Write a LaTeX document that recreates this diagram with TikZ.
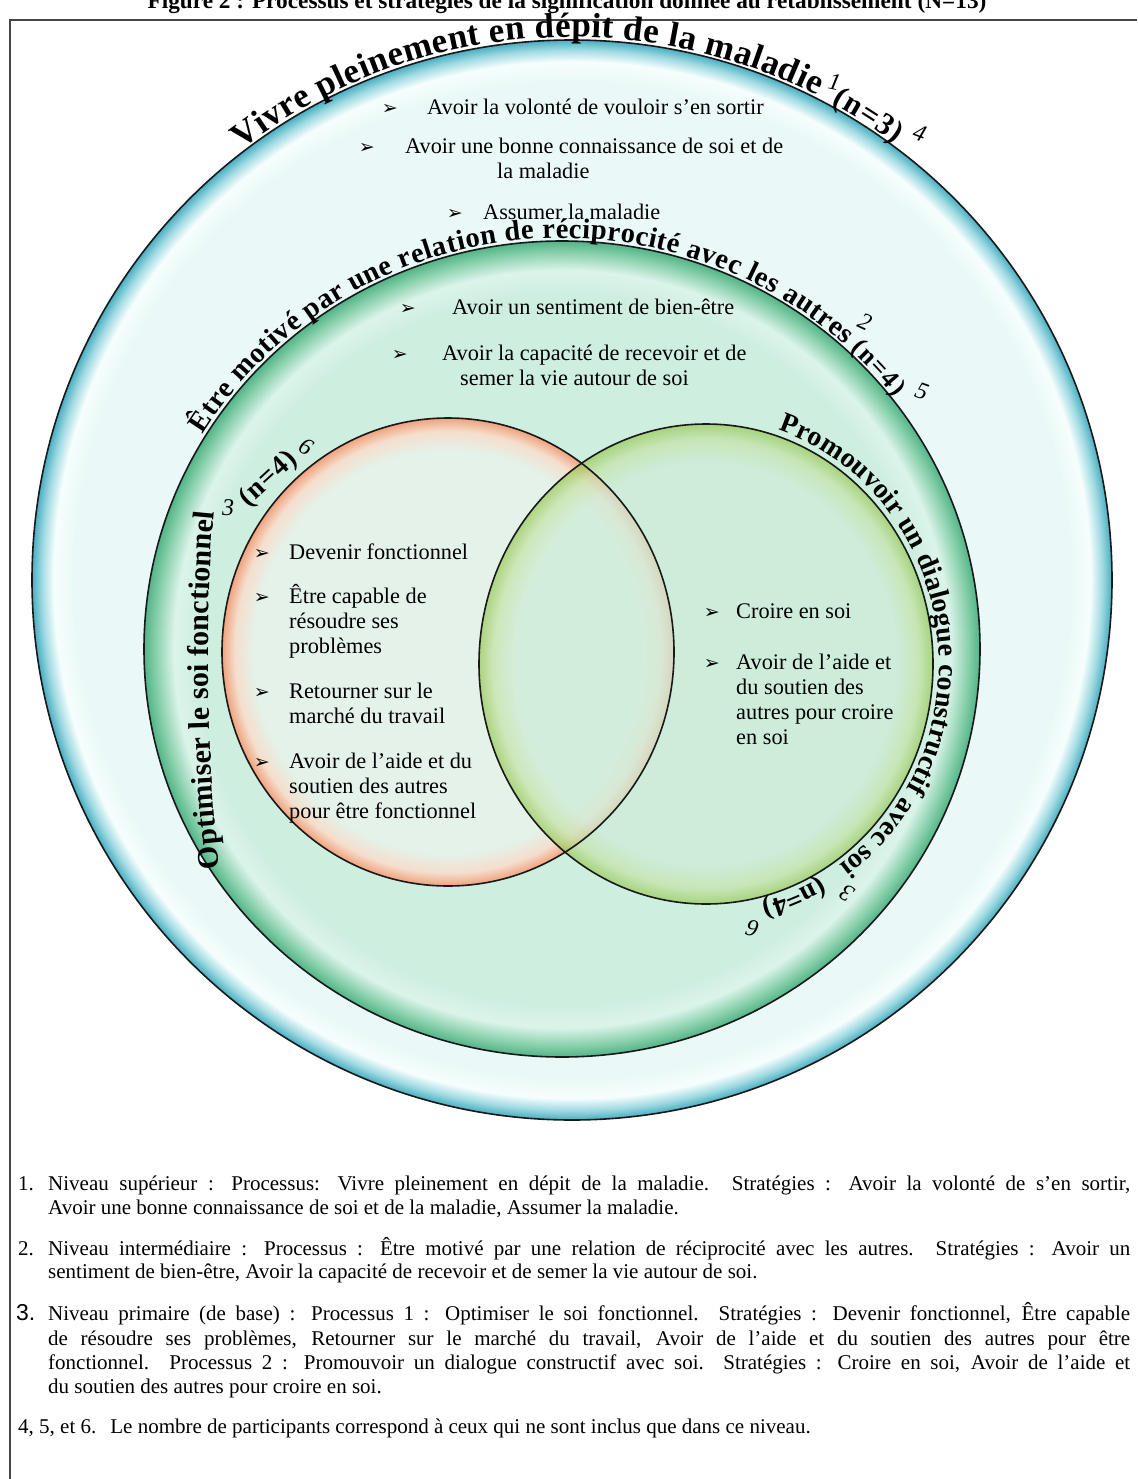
\documentclass[tikz,border=0pt]{standalone}
\usepackage{fontspec}
\setmainfont{Liberation Serif}
\newfontfamily\dejavu{DejaVu Sans}
\newfontfamily\arialfont{Liberation Sans}
\usetikzlibrary{decorations.text,calc}

\definecolor{oIn}{RGB}{234,249,247}
\definecolor{oHi}{RGB}{246,254,253}
\definecolor{oMid}{RGB}{160,218,226}
\definecolor{oEdge}{RGB}{72,174,194}
\definecolor{mIn}{RGB}{206,238,224}
\definecolor{mHi}{RGB}{220,244,234}
\definecolor{mMid}{RGB}{136,208,172}
\definecolor{mEdge}{RGB}{82,180,136}
\definecolor{rIn}{RGB}{228,242,233}
\definecolor{rMid}{RGB}{245,222,205}
\definecolor{rEdge}{RGB}{240,162,124}
\definecolor{gIn}{RGB}{205,236,216}
\definecolor{gMid}{RGB}{196,228,166}
\definecolor{gEdge}{RGB}{150,200,84}
\definecolor{framecol}{RGB}{70,70,70}

\pgfdeclareradialshading{outershade}{\pgfpoint{0bp}{0bp}}{%
 color(0bp)=(oIn); color(23.1bp)=(oIn); color(24bp)=(oHi);
 color(24.55bp)=(oMid); color(25bp)=(oEdge); color(50bp)=(oEdge)}
\pgfdeclareradialshading{middleshade}{\pgfpoint{0bp}{0bp}}{%
 color(0bp)=(mIn); color(21.8bp)=(mIn); color(23.2bp)=(mHi);
 color(24.3bp)=(mMid); color(25bp)=(mEdge); color(50bp)=(mEdge)}
\pgfdeclareradialshading{leftshade}{\pgfpoint{0bp}{0bp}}{%
 color(0bp)=(rIn); color(21.5bp)=(rIn); color(23.6bp)=(rMid);
 color(25bp)=(rEdge); color(50bp)=(rEdge)}
\pgfdeclareradialshading{rightshade}{\pgfpoint{0bp}{0bp}}{%
 color(0bp)=(gIn); color(21bp)=(gIn); color(23.4bp)=(gMid);
 color(25bp)=(gEdge); color(50bp)=(gEdge)}

\newcommand{\arcA}{\bfseries\fontsize{35}{35}\selectfont}
\newcommand{\arcAn}{\bfseries\fontsize{31}{31}\selectfont}
\newcommand{\arcB}{\bfseries\fontsize{28.5}{28.5}\selectfont}
\newcommand{\arcBn}{\bfseries\fontsize{26}{26}\selectfont}
\newcommand{\arcC}{\bfseries\fontsize{30}{30}\selectfont}
\newcommand{\arcCn}{\bfseries\fontsize{28}{28}\selectfont}
\newcommand{\arcD}{\bfseries\fontsize{28}{28}\selectfont}

\tikzset{
  txtA/.style={decorate, decoration={text along path, text align={fit to path}, text={|\arcA|#1}}},
  txtAn/.style={decorate, decoration={text along path, text align={fit to path}, text={|\arcAn|#1}}},
  txtB/.style={decorate, decoration={text along path, text align={fit to path}, text={|\arcB|#1}}},
  txtBn/.style={decorate, decoration={text along path, text align={fit to path}, text={|\arcBn|#1}}},
  txtC/.style={decorate, decoration={text along path, text align={fit to path}, text={|\arcC|#1}}},
  txtCn/.style={decorate, decoration={text along path, text align={fit to path}, text={|\arcCn|#1}}},
  txtD/.style={decorate, decoration={text along path, text align={fit to path}, text={|\arcD|#1}}},
  outline/.style={draw=black!90, line width=1.6pt},
  item/.style={anchor=base west, inner sep=0pt, align=left, font=\fontsize{22.3}{25}\selectfont},
  bul/.style={anchor=base east, inner sep=0pt, font=\dejavu\fontsize{19}{19}\selectfont},
  note/.style={anchor=base west, inner sep=0pt, font=\fontsize{21}{24}\selectfont},
  supnum/.style={inner sep=0pt, font=\itshape\fontsize{24}{24}\selectfont}
}

\begin{document}
\begin{tikzpicture}[x=1pt,y=1pt]
\useasboundingbox (0,0) rectangle (1137,-1479);

% title (cut off at top) and frame
\node[font=\bfseries\fontsize{23.3}{23.3}\selectfont, anchor=base, inner sep=0pt] (title) at (567,-9)
  {Figure 2 : Processus et stratégies de la signification donnée au rétablissement (N=13)};
\coordinate (fTL) at (10,-20);
\coordinate (fTR) at (1137,-20);
\coordinate (fBL) at (10,-1479);
\draw[framecol, line width=2.2pt] (fBL) -- (fTL) -- (fTR);

% circles
\coordinate (O) at (572,-580);
\coordinate (M) at (562,-649);
\coordinate (L) at (448,-652);
\coordinate (R) at (706,-664);

\shade[shading=outershade] (O) circle [radius=540];
\draw[outline] (O) circle [radius=540];
\shade[shading=middleshade] (M) ellipse [x radius=418, y radius=408];
\draw[outline] (M) ellipse [x radius=418, y radius=408];
\shade[shading=leftshade] (L) ellipse [x radius=226, y radius=234];
\shade[shading=rightshade, fill opacity=0.7] (R) ellipse [x radius=227, y radius=240];
\draw[outline] (L) ellipse [x radius=226, y radius=234];
\draw[outline] (R) ellipse [x radius=227, y radius=240];

% level 1 title
\path[txtA={Vivre pleinement en dépit de la maladie}] ($(O)+(127.5:543)$)
  arc[start angle=127.5, end angle=63.2, radius=543];
\path[txtAn={(n=3)}] ($(O)+(61.4:543)$)
  arc[start angle=61.4, end angle=53.5, radius=543];
\node[supnum, rotate=-12] (s1) at ($(O)+(62.2:563)$) {1};
\node[supnum, rotate=-20] (s4) at ($(O)+(52.1:566)$) {4};

% level 2 title
\path[txtB={Être motivé par une relation de réciprocité avec les autres}] ($(M)+(148.5:421 and 411)$)
  arc[start angle=148.5, end angle=47.8, x radius=421, y radius=411];
\path[txtBn={(n=4)}] ($(M)+(46.8:421 and 411)$)
  arc[start angle=46.8, end angle=37.8, x radius=421, y radius=411];
\node[supnum, rotate=-25] (s2) at ($(M)+(47.8:451 and 441)$) {2};
\node[supnum, rotate=-20] (s5) at ($(M)+(36.2:446 and 436)$) {5};

% level 3, process 1
\coordinate (la) at (220,-868);
\coordinate (lb) at (206,-760);
\coordinate (lc) at (205,-600);
\coordinate (ld) at (214,-512);
\path[txtC={Optimiser le soi fonctionnel}] (la) .. controls (lb) and (lc) .. (ld);
\coordinate (le) at (248,-507);
\coordinate (lf) at (298,-461);
\path[txtCn={(n=4)}] (le) -- (lf);
\node[supnum] (s3l) at (228,-508) {3};
\node[supnum, rotate=-30] (s6l) at (306,-447) {6};

% level 3, process 2
\path[txtD={Promouvoir un dialogue constructif avec soi}] ($(R)+(72:233 and 246)$)
  arc[start angle=72, end angle=-55, x radius=233, y radius=246];
\path[txtD={(n=4)}] ($(R)+(-60.5:233 and 246)$)
  arc[start angle=-60.5, end angle=-76, x radius=233, y radius=246];
\node[supnum, rotate=150] (s3r) at ($(R)+(-57.2:260 and 273)$) {3};
\node[supnum, rotate=165] (s6r) at ($(R)+(-79.5:256 and 269)$) {6};

% outer ring items
\node[bul] (b1) at (398,-115) {➢};
\node[item] (t1) at (427,-115) {Avoir la volonté de vouloir s’en sortir};
\node[bul] (b2) at (375,-154) {➢};
\node[item] (t2) at (405,-179) {Avoir une bonne connaissance de soi et de\\\hspace*{92pt}la maladie};
\node[bul] (b3) at (463,-220) {➢};
\node[item] (t3) at (483,-220) {Assumer la maladie};

% middle ring items
\node[bul] (b4) at (416,-314) {➢};
\node[item] (t4) at (452,-314) {Avoir un sentiment de bien-être};
\node[bul] (b5) at (408,-360) {➢};
\node[item] (t5) at (442,-385) {Avoir la capacité de recevoir et de\\\hspace*{18pt}semer la vie autour de soi};

% left circle items
\node[bul] (b6) at (270,-559) {➢};
\node[item] (t6) at (289,-559) {Devenir fonctionnel};
\node[bul] (b7) at (270,-603) {➢};
\node[item] (t7) at (289,-653) {Être capable de\\résoudre ses\\problèmes};
\node[bul] (b8) at (270,-698) {➢};
\node[item] (t8) at (289,-723) {Retourner sur le\\marché du travail};
\node[bul] (b9) at (270,-768) {➢};
\node[item] (t9) at (289,-818) {Avoir de l'aide et du\\soutien des autres\\pour être fonctionnel};

% right circle items
\node[bul] (b10) at (720,-618) {➢};
\node[item] (t10) at (736,-618) {Croire en soi};
\node[bul] (b11) at (720,-669) {➢};
\node[item] (t11) at (736,-744) {Avoir de l'aide et\\du soutien des\\autres pour croire\\en soi};

% notes
\node[note] (n1) at (18,-1190) {1.};
\node[note] (n1a) at (48,-1190) {\makebox[1082pt][s]{Niveau supérieur : Processus: Vivre pleinement en dépit de la maladie. Stratégies : Avoir la volonté de s’en sortir,}};
\node[note] (n1b) at (48,-1214) {Avoir une bonne connaissance de soi et de la maladie, Assumer la maladie.};
\node[note] (n2) at (18,-1255) {2.};
\node[note] (n2a) at (48,-1255) {\makebox[1082pt][s]{Niveau intermédiaire : Processus : Être motivé par une relation de réciprocité avec les autres. Stratégies : Avoir un}};
\node[note] (n2b) at (48,-1278) {sentiment de bien-être, Avoir la capacité de recevoir et de semer la vie autour de soi.};
\node[note, font=\arialfont\fontsize{23}{24}\selectfont] (n3) at (16,-1320) {3.};
\node[note] (n3a) at (48,-1320) {\makebox[1082pt][s]{Niveau primaire (de base) : Processus 1 : Optimiser le soi fonctionnel. Stratégies : Devenir fonctionnel, Être capable}};
\node[note] (n3b) at (48,-1345) {\makebox[1082pt][s]{de résoudre ses problèmes, Retourner sur le marché du travail, Avoir de l'aide et du soutien des autres pour être}};
\node[note] (n3c) at (48,-1369) {\makebox[1082pt][s]{fonctionnel. Processus 2 : Promouvoir un dialogue constructif avec soi.\ \ Stratégies : Croire en soi, Avoir de l’aide et}};
\node[note] (n3d) at (48,-1393) {du soutien des autres pour croire en soi.};
\node[note] (n4) at (18,-1433) {4, 5, et 6.\hspace{14pt}Le nombre de participants correspond à ceux qui ne sont inclus que dans ce niveau.};

\end{tikzpicture}
\end{document}
